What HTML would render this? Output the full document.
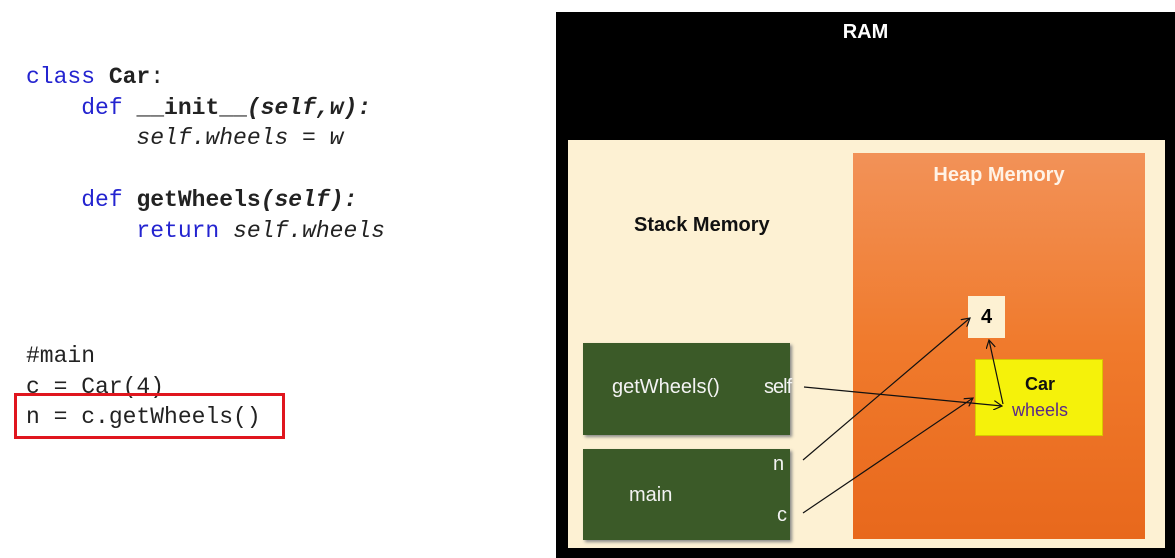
<!DOCTYPE html>
<html><head><style>
body{margin:0;width:1175px;height:558px;background:#fff;position:relative;overflow:hidden;font-family:"Liberation Sans",sans-serif}
.code{position:absolute;left:26px;font-family:"Liberation Mono",monospace;font-size:23px;color:#222;white-space:pre;line-height:30.5px}
.k{color:#2424d0}.b{font-weight:bold}.i{font-style:italic}
.abs{position:absolute}
</style></head><body>
<div class="code" style="top:62px"><span class="k">class</span> <span class="b">Car</span>:
    <span class="k">def</span> <span class="b">__init__</span><span class="b i">(self,w):</span>
        <span class="i">self.wheels = w</span></div>
<div class="code" style="top:185px">    <span class="k">def</span> <span class="b">getWheels</span><span class="b i">(self):</span>
        <span class="k">return</span> <span class="i">self.wheels</span></div>
<div class="code" style="top:341px">#main
c = Car(4)
n = c.getWheels()</div>
<div class="abs" style="left:14px;top:393px;width:265px;height:40px;border:3px solid #e0161e"></div>

<div class="abs" style="left:556px;top:12px;width:619px;height:546px;background:#000"></div>
<div class="abs" style="left:556px;top:21px;width:619px;text-align:center;color:#fff;font-weight:bold;font-size:20px;padding-left:0">RAM</div>
<div class="abs" style="left:568px;top:140px;width:597px;height:408px;background:#fdf1d3"></div>
<div class="abs" style="left:853px;top:153px;width:292px;height:386px;background:linear-gradient(#f29258,#f07a2c 50%,#e8681c)"></div>
<div class="abs" style="left:853px;top:164px;width:292px;text-align:center;color:#fff3e6;font-weight:bold;font-size:20px">Heap Memory</div>
<div class="abs" style="left:634px;top:214px;font-weight:bold;font-size:20px;color:#111">Stack Memory</div>
<div class="abs" style="left:583px;top:343px;width:207px;height:92px;background:#3b5a28;box-shadow:2px 2px 3px #888"></div>
<div class="abs" style="left:612px;top:376px;color:#f3f3f3;font-size:20px">getWheels()</div>
<div class="abs" style="left:764px;top:376px;color:#f3f3f3;font-size:20px;letter-spacing:-1px">self</div>
<div class="abs" style="left:583px;top:449px;width:207px;height:91px;background:#3b5a28;box-shadow:2px 2px 3px #888"></div>
<div class="abs" style="left:629px;top:484px;color:#f3f3f3;font-size:20px">main</div>
<div class="abs" style="left:773px;top:453px;color:#f3f3f3;font-size:20px">n</div>
<div class="abs" style="left:777px;top:504px;color:#f3f3f3;font-size:20px">c</div>
<div class="abs" style="left:968px;top:296px;width:37px;height:42px;background:#fdf1d3;text-align:center;line-height:42px;font-weight:bold;font-size:20px">4</div>
<div class="abs" style="left:975px;top:359px;width:128px;height:77px;background:#f5f20a;border:1px solid #d8c800;box-sizing:border-box"></div>
<div class="abs" style="left:975px;top:374px;width:130px;text-align:center;font-weight:bold;font-size:18px;color:#111">Car</div>
<div class="abs" style="left:975px;top:400px;width:130px;text-align:center;font-size:18px;color:#5a2a8a">wheels</div>
<svg class="abs" style="left:0;top:0" width="1175" height="558">
<defs><marker id="a" markerWidth="8" markerHeight="8" refX="7" refY="4" orient="auto"><path d="M0,0L7,4L0,8" fill="none" stroke="#111" stroke-width="1"/></marker></defs>
<g stroke="#111" stroke-width="1.2" fill="none" marker-end="url(#a)">
<line x1="804" y1="387" x2="1002" y2="406"/>
<line x1="803" y1="460" x2="970" y2="318"/>
<line x1="803" y1="513" x2="973" y2="398"/>
<line x1="1003" y1="404" x2="989" y2="340"/>
</g></svg>
</body></html>
